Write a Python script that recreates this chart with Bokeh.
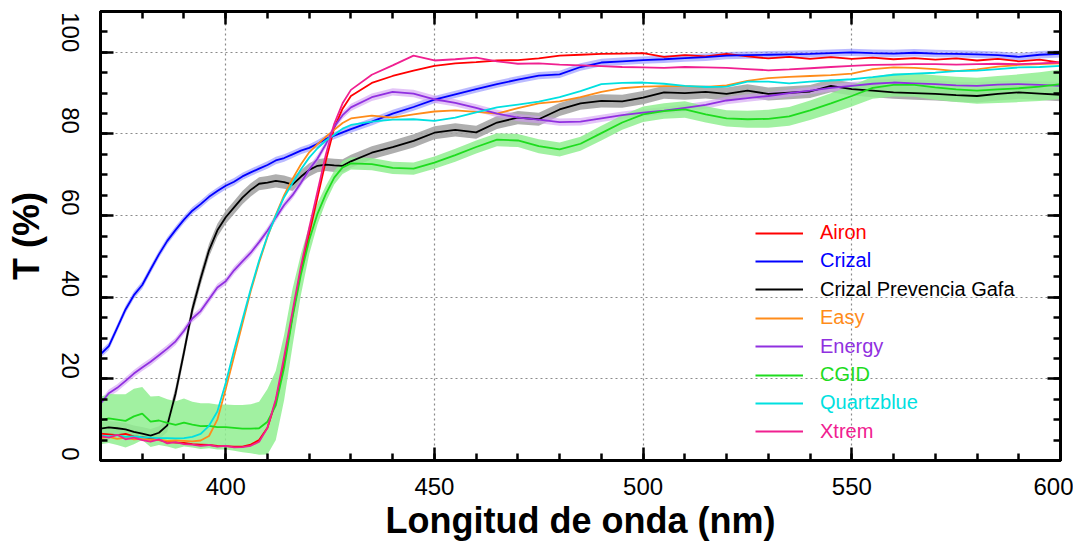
import math
import numpy as np
from bokeh.plotting import figure
from bokeh.models import (SingleIntervalTicker, LinearAxis, Legend, LegendItem,
                          CustomLabelingPolicy)
from bokeh.embed import file_html
from bokeh.resources import INLINE

# ---------------- data ----------------
wavelength = [370, 372, 374, 376, 378, 380, 382, 384, 386, 388, 390, 392, 394, 396, 398,
              400, 402, 404, 406, 408, 410, 412, 414, 416, 418, 420, 422, 424, 426, 428, 430,
              435, 440, 445, 450, 455, 460, 465, 470, 475, 480, 485, 490, 495, 500, 505, 510,
              515, 520, 525, 530, 535, 540, 545, 550, 555, 560, 565, 570, 575, 580, 585, 590,
              595, 600]

airon = [6.6, 6.4, 6.2, 6.5, 5.9, 5.7, 5.4, 5.0, 4.6, 4.4, 4.3, 4.0, 3.9, 3.8, 3.6,
         3.5, 3.4, 3.4, 3.9, 5.0, 8.0, 14.5, 24.0, 35.5, 46.5, 55.5, 64.5, 73.5, 81.5, 86.2, 89.3,
         92.5, 94.2, 95.5, 96.7, 97.3, 97.6, 98.0, 98.1, 98.5, 99.2, 99.4, 99.6, 99.7, 99.8, 98.9, 99.3,
         99.0, 99.6, 99.0, 98.5, 98.9, 98.4, 98.8, 98.4, 98.7, 98.3, 98.6, 98.2, 98.5, 98.0, 98.4, 97.8,
         98.2, 97.5]

crizal = [26.0, 28.0, 32.5, 37.0, 40.5, 43.0, 46.8, 50.5, 53.8, 56.5, 59.0, 61.2, 62.8, 64.6, 66.0,
          67.3, 68.3, 69.6, 70.6, 71.5, 72.4, 73.5, 74.1, 75.0, 75.9, 76.6, 77.6, 78.8, 79.6, 80.4, 81.2,
          83.0, 85.0, 86.6, 88.4, 89.7, 91.0, 92.2, 93.3, 94.3, 94.6, 96.4, 97.5, 97.8, 98.1, 98.3, 98.6,
          98.8, 99.2, 99.3, 99.4, 99.5, 99.6, 99.8, 100.0, 99.8, 99.7, 99.9, 99.7, 99.6, 99.5, 99.3, 98.9,
          99.4, 99.6]

prevencia = [7.8, 8.1, 7.9, 7.6, 7.0, 6.6, 6.1, 6.8, 8.6, 16.5, 26.5, 37.0, 44.6, 51.5, 56.4,
             59.6, 62.0, 64.4, 66.3, 67.8, 68.1, 68.5, 68.2, 67.6, 69.5, 71.2, 72.2, 72.5, 72.3, 72.2, 73.3,
             75.4, 76.8, 78.3, 80.3, 81.0, 80.4, 82.8, 84.0, 83.6, 86.0, 87.5, 88.1, 88.0, 88.9, 90.2, 90.0,
             90.3, 89.8, 90.6, 89.8, 90.1, 90.4, 91.8, 91.0, 90.6, 90.2, 90.0, 89.8, 89.5, 89.3, 89.8, 90.2,
             89.9, 89.6]

easy = [5.5, 5.8, 5.3, 5.6, 5.2, 5.3, 5.0, 5.1, 4.8, 4.9, 4.8, 4.7, 4.9, 6.0, 10.0,
        17.5, 25.5, 33.5, 41.5, 48.5, 54.8, 60.2, 65.0, 69.0, 72.5, 75.5, 77.5, 79.3, 81.0, 82.7, 83.8,
        84.5, 84.0, 84.8, 85.5, 85.8, 85.4, 85.0, 86.3, 87.5, 88.0, 89.0, 90.3, 91.2, 91.6, 91.7, 91.7,
        91.5, 91.9, 93.0, 93.7, 94.0, 94.2, 94.4, 94.8, 95.9, 96.3, 96.2, 95.9, 95.4, 95.8, 96.5, 96.9,
        97.1, 97.3]

energy = [13.9, 16.5, 17.8, 19.5, 21.3, 22.8, 24.2, 25.8, 27.4, 29.2, 31.8, 34.8, 36.6, 39.5, 42.4,
          43.9, 46.6, 48.8, 50.9, 53.5, 56.3, 59.5, 62.6, 65.0, 68.0, 71.3, 74.0, 77.5, 81.8, 84.6, 86.5,
          89.0, 90.3, 89.9, 88.5, 87.6, 86.4, 85.0, 84.0, 83.5, 82.9, 83.0, 83.8, 84.6, 85.2, 85.7, 86.4,
          87.1, 88.2, 88.8, 89.3, 90.0, 90.6, 91.3, 91.8, 92.3, 92.6, 92.4, 92.2, 91.9, 91.8, 92.1, 92.2,
          92.0, 91.8]

cgid = [9.8, 10.3, 10.0, 9.7, 10.8, 11.5, 9.5, 9.8, 9.2, 8.7, 9.3, 8.8, 8.4, 8.5, 8.2,
        8.2, 8.0, 7.8, 7.8, 7.9, 9.5, 13.5, 22.8, 35.0, 45.5, 54.0, 60.5, 65.3, 69.3, 71.8, 72.8,
        72.6, 71.7, 71.5, 73.0, 74.8, 76.8, 78.6, 78.4, 77.0, 76.2, 77.6, 80.2, 82.8, 84.8, 85.6, 86.0,
        84.8, 83.8, 83.6, 83.7, 84.3, 85.8, 87.5, 89.3, 91.3, 92.0, 92.0, 91.4, 90.9, 90.6, 90.9, 91.2,
        91.6, 92.2]

quartzblue = [6.1, 5.9, 6.2, 5.8, 5.9, 5.7, 5.6, 5.5, 5.5, 5.4, 5.5, 5.8, 6.5, 8.5, 12.0,
              19.0, 27.0, 34.5, 42.0, 49.0, 55.0, 60.0, 64.5, 68.0, 71.3, 74.2, 76.5, 78.4, 79.8, 81.3, 82.2,
              83.0, 83.5, 83.6, 83.2, 84.0, 85.3, 86.5, 87.2, 87.9, 89.0, 90.5, 92.2, 92.5, 92.6, 92.3, 91.8,
              91.5, 91.6, 92.8, 92.8, 92.4, 92.8, 93.1, 93.4, 93.9, 94.5, 94.8, 95.0, 95.4, 95.5, 95.9, 96.3,
              96.4, 96.7]

xtrem = [6.0, 5.6, 6.3, 5.2, 5.6, 5.0, 4.6, 5.2, 4.2, 4.5, 4.0, 3.9, 3.6, 3.8, 3.4,
         3.6, 3.2, 3.3, 3.6, 4.6, 8.0, 15.0, 25.5, 36.5, 47.5, 57.0, 66.0, 75.0, 82.5, 87.5, 90.8,
         94.5, 96.8, 99.2, 98.0, 98.3, 98.7, 97.8, 97.2, 97.3, 97.0, 96.8, 96.6, 96.4, 96.3, 96.2, 96.4,
         96.3, 96.2, 95.9, 95.6, 95.8, 96.1, 96.4, 96.7, 96.9, 97.0, 97.1, 97.1, 97.0, 97.1, 97.2, 97.1,
         97.3, 97.5]

# spread (standard deviation) shown as shaded bands
cgid_sd = [5.8, 6.0, 6.2, 6.5, 6.8, 6.5, 6.2, 6.0, 5.8, 5.8, 5.9, 5.6, 5.6, 5.5, 5.5,
           5.5, 5.6, 5.8, 6.0, 6.5, 8.0, 8.5, 8.0, 7.0, 5.0, 3.5, 2.6, 2.0, 1.7, 1.6, 1.5,
           1.5, 1.5, 1.5, 1.5, 1.6, 1.6, 1.6, 1.6, 1.7, 1.7, 1.7, 1.8, 1.8, 1.9, 1.9, 2.0,
           2.0, 2.0, 2.1, 2.2, 2.3, 2.4, 2.5, 2.6, 2.7, 2.8, 2.9, 3.0, 3.1, 3.2, 3.3, 3.4,
           3.5, 3.6]
prevencia_sd = 1.6
crizal_sd = 0.9
energy_sd = 0.9

names = ["Airon", "Crizal", "Crizal Prevencia Gafa", "Easy", "Energy", "CGID", "Quartzblue", "Xtrem"]
series = [airon, crizal, prevencia, easy, energy, cgid, quartzblue, xtrem]
colors = ["#FF0000", "#0000FF", "#000000", "#FF8C1A", "#9030E0", "#1EDC1E", "#00E0E0", "#F02090"]

for s in series + [cgid_sd]:
    assert len(s) == len(wavelength), len(s)

FONT = "Liberation Sans"

p = figure(width=1073, height=544, x_range=(370, 600), y_range=(0, 110),
           output_backend="svg", toolbar_location=None,
           min_border_left=100, min_border_right=13, min_border_top=11, min_border_bottom=84)
p.background_fill_color = "white"
p.border_fill_color = "white"
p.outline_line_color = "black"
p.outline_line_width = 3

xt = SingleIntervalTicker(interval=50, num_minor_ticks=5)
yt = SingleIntervalTicker(interval=20, num_minor_ticks=4)


def style_axis(ax, ticker, show_labels):
    ax.ticker = ticker
    ax.axis_line_color = "black"
    ax.axis_line_width = 3
    ax.major_tick_in = 13
    ax.major_tick_out = 0
    ax.minor_tick_in = 7
    ax.minor_tick_out = 0
    ax.major_tick_line_width = 2.5
    ax.minor_tick_line_width = 2.5
    ax.major_tick_line_color = "black"
    ax.minor_tick_line_color = "black"
    if show_labels:
        ax.major_label_text_font = FONT
        ax.major_label_text_font_size = "24px"
        ax.major_label_text_color = "black"
    else:
        ax.major_label_text_font_size = "0px"
        ax.major_label_standoff = 0
        ax.major_label_policy = CustomLabelingPolicy(code="return new Set()")


style_axis(p.xaxis[0], xt, True)
style_axis(p.yaxis[0], yt, True)
p.xaxis.major_label_standoff = 17
p.yaxis.major_label_standoff = 30
p.yaxis.major_label_orientation = -math.pi / 2

p.xaxis.axis_label = "Longitud de onda (nm)"
p.xaxis.axis_label_text_font = FONT
p.xaxis.axis_label_text_font_style = "bold"
p.xaxis.axis_label_text_font_size = "36px"
p.xaxis.axis_label_standoff = 2
p.xaxis.axis_label_text_color = "black"

p.yaxis.axis_label = "T (%)"
p.yaxis.axis_label_text_font = FONT
p.yaxis.axis_label_text_font_style = "bold"
p.yaxis.axis_label_text_font_size = "36px"
p.yaxis.axis_label_standoff = 4
p.yaxis.axis_label_text_color = "black"

top_ax = LinearAxis()
style_axis(top_ax, SingleIntervalTicker(interval=50, num_minor_ticks=5), False)
p.add_layout(top_ax, "above")
right_ax = LinearAxis()
style_axis(right_ax, SingleIntervalTicker(interval=20, num_minor_ticks=4), False)
p.add_layout(right_ax, "right")

for g in (p.xgrid[0], p.ygrid[0]):
    g.grid_line_color = "#8a8a8a"
    g.grid_line_dash = "2 3"
    g.grid_line_width = 1.2
p.xgrid.ticker = SingleIntervalTicker(interval=50)
p.ygrid.ticker = SingleIntervalTicker(interval=20)

wl = np.array(wavelength, dtype=float)

# shaded bands
bands = [
    (np.array(prevencia), prevencia_sd, "#A0A0A0", 0.85),
    (np.array(crizal), crizal_sd, "#8C8CFF", 0.6),
    (np.array(energy), energy_sd, "#D09CF2", 0.6),
    (np.array(cgid), np.array(cgid_sd), "#90EE90", 0.85),
]
for vals, sd, col, alpha in bands:
    p.varea(x=wl, y1=vals - sd, y2=vals + sd, fill_color=col, fill_alpha=alpha)

renderers = []
for vals, col in zip(series, colors):
    r = p.line(x=wl, y=vals, line_color=col, line_width=1.8)
    renderers.append(r)

# legend: one entry per Legend so that each label has its own colour
for i, (name, col, r) in enumerate(zip(names, colors, renderers)):
    leg = Legend(items=[LegendItem(label=name, renderers=[r])],
                 location=(655, 216 - 28.4 * i))
    leg.border_line_color = None
    leg.background_fill_alpha = 0
    leg.padding = 0
    leg.margin = 0
    leg.spacing = 0
    leg.glyph_width = 48
    leg.glyph_height = 22
    leg.label_height = 22
    leg.label_standoff = 17
    leg.label_text_font = FONT
    leg.label_text_font_size = "20px"
    leg.label_text_color = col
    p.add_layout(leg)

open("out.html", "w").write(file_html(p, INLINE))
